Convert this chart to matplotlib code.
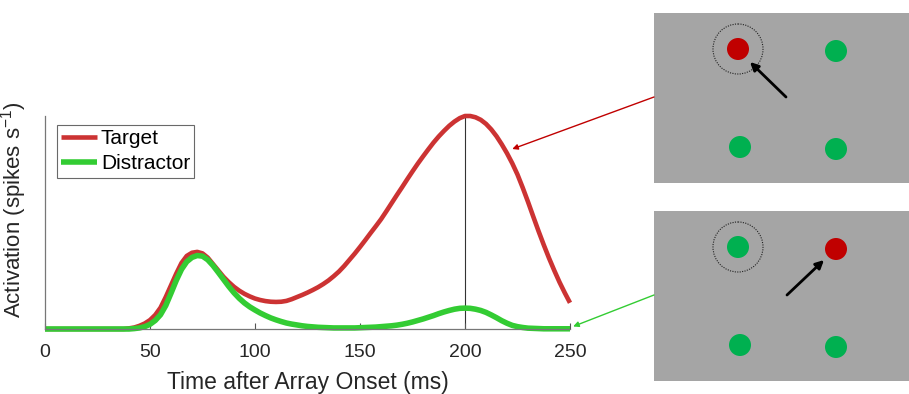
"""Target vs distractor activation with the two search-array panels."""

import numpy as np
import matplotlib.pyplot as plt
from matplotlib.patches import Rectangle, Circle

plt.rcParams["font.family"] = ["Liberation Sans", "DejaVu Sans"]

# time after array onset (ms), 2.5 ms steps
time_ms = [i * 2.5 for i in range(101)]

# activation, normalised to the target peak
target = [0, 0, 0, 0, 0, 0, 0, 0, 0, 0,
          0, 0, 0, 0, 0, 0, 0.003, 0.007, 0.015, 0.026,
          0.042, 0.066, 0.10, 0.15, 0.205, 0.26, 0.31, 0.343, 0.358, 0.362,
          0.355, 0.335, 0.305, 0.275, 0.245, 0.22, 0.198, 0.18, 0.165, 0.153,
          0.143, 0.136, 0.131, 0.128, 0.127, 0.128, 0.132, 0.14, 0.15, 0.16,
          0.171, 0.183, 0.196, 0.211, 0.228, 0.248, 0.27, 0.296, 0.325, 0.354,
          0.385, 0.417, 0.45, 0.482, 0.515, 0.552, 0.59, 0.628, 0.665, 0.703,
          0.74, 0.776, 0.81, 0.843, 0.875, 0.904, 0.93, 0.954, 0.974, 0.99,
          1.0, 1.0, 0.994, 0.982, 0.963, 0.937, 0.905, 0.867, 0.825, 0.778,
          0.725, 0.663, 0.597, 0.528, 0.46, 0.395, 0.333, 0.275, 0.22, 0.17,
          0.123]
distractor = [0, 0, 0, 0, 0, 0, 0, 0, 0, 0,
              0, 0, 0, 0, 0, 0, 0, 0.002, 0.005, 0.011,
              0.022, 0.04, 0.067, 0.11, 0.168, 0.228, 0.28, 0.316, 0.336, 0.345,
              0.342, 0.325, 0.298, 0.266, 0.233, 0.2, 0.17, 0.144, 0.122, 0.104,
              0.089, 0.075, 0.063, 0.052, 0.043, 0.035, 0.028, 0.023, 0.019, 0.015,
              0.012, 0.01, 0.008, 0.007, 0.006, 0.005, 0.005, 0.005, 0.005, 0.005,
              0.006, 0.007, 0.008, 0.009, 0.011, 0.013, 0.015, 0.018, 0.022, 0.027,
              0.033, 0.04, 0.047, 0.055, 0.063, 0.072, 0.08, 0.087, 0.093, 0.097,
              0.098, 0.097, 0.093, 0.087, 0.078, 0.066, 0.053, 0.039, 0.027, 0.017,
              0.011, 0.007, 0.004, 0.003, 0.002, 0.001, 0.001, 0.001, 0.001, 0.001,
              0.001]

x_ticks = [0, 50, 100, 150, 200, 250]

RED = "#cc3333"
GREEN = "#33cc33"

W, H = 909, 394
fig = plt.figure(figsize=(W / 100, H / 100), dpi=100)

# main axes, placed in pixel units
left, right, top, bottom = 45, 570, 116, 329
ax = fig.add_axes([left / W, 1 - bottom / H, (right - left) / W, (bottom - top) / H])

ax.plot(time_ms, target, color=RED, lw=3.3, label="Target", clip_on=False,
        solid_capstyle="butt", solid_joinstyle="round")
ax.plot(time_ms, distractor, color=GREEN, lw=4.0, label="Distractor", clip_on=False,
        solid_capstyle="butt", solid_joinstyle="round")

peak_t = time_ms[int(np.argmax(target))]
ax.plot([peak_t, peak_t], [0, max(target)], color="#333333", lw=0.8, zorder=1)

ax.set_xlim(0, 250)
ax.set_ylim(0, 1.0)
ax.set_xticks(x_ticks)
ax.set_yticks([])
ax.tick_params(axis="x", direction="in", length=4, color="#555555",
               labelsize=14, pad=11, colors="#262626")
for side in ["top", "right"]:
    ax.spines[side].set_visible(False)
for side in ["left", "bottom"]:
    ax.spines[side].set_color("#777777")
    ax.spines[side].set_linewidth(0.9)

ax.set_xlabel("Time after Array Onset (ms)", fontsize=16.5, color="#262626", labelpad=7)
ax.set_ylabel("Activation (spikes s$^{\\mathregular{-1}}$)", fontsize=16, color="#262626",
              labelpad=4)
ax.yaxis.set_label_coords(-0.03, 0.56)

leg = ax.legend(loc="upper left", bbox_to_anchor=(0.023, 0.958), fontsize=15,
                frameon=True, fancybox=False, edgecolor="#444444",
                handlelength=1.7, handletextpad=0.2, borderpad=0.2,
                labelspacing=0.3, borderaxespad=0.0)
leg.get_frame().set_linewidth(0.8)

# overlay in pixel coordinates for the search-array panels
ov = fig.add_axes([0, 0, 1, 1], zorder=-1)
ov.set_xlim(0, W)
ov.set_ylim(H, 0)
ov.axis("off")


def draw_panel(y0, red_pos, circle_pos, arrow):
    ov.add_patch(Rectangle((654, y0), 260, 170, facecolor="#a5a5a5",
                           edgecolor="none"))
    dots = [(738, y0 + 36), (836, y0 + 38), (740, y0 + 134), (836, y0 + 136)]
    for i, (cx, cy) in enumerate(dots):
        col = "#c00000" if i == red_pos else "#00b050"
        ov.add_patch(Circle((cx, cy), 11, facecolor=col, edgecolor="none"))
    cx, cy = dots[circle_pos]
    ov.add_patch(Circle((cx, cy), 25, facecolor="none", edgecolor="#222222",
                        lw=0.8, linestyle=(0, (1, 1.2))))
    (x1, y1), (x2, y2) = arrow
    ov.annotate("", xy=(x2, y0 + y2), xytext=(x1, y0 + y1),
                arrowprops=dict(arrowstyle="-|>", color="black", lw=2,
                                mutation_scale=12, shrinkA=0, shrinkB=0))


draw_panel(13, 0, 0, ((786, 84), (750, 49)))
draw_panel(211, 1, 0, ((787, 84), (824, 49)))

# thin arrows from the panels to the curves
ax.annotate("", xy=(222.5, 0.845), xytext=(654, H - 97), textcoords="figure pixels",
            arrowprops=dict(arrowstyle="-|>", color="#c00000", lw=1.0,
                            mutation_scale=8, shrinkA=0, shrinkB=0),
            annotation_clip=False)
ax.annotate("", xy=(251.5, 0.012), xytext=(654, H - 295), textcoords="figure pixels",
            arrowprops=dict(arrowstyle="-|>", color="#33cc33", lw=1.0,
                            mutation_scale=8, shrinkA=0, shrinkB=0),
            annotation_clip=False)

fig.savefig("out.png", dpi=100)
